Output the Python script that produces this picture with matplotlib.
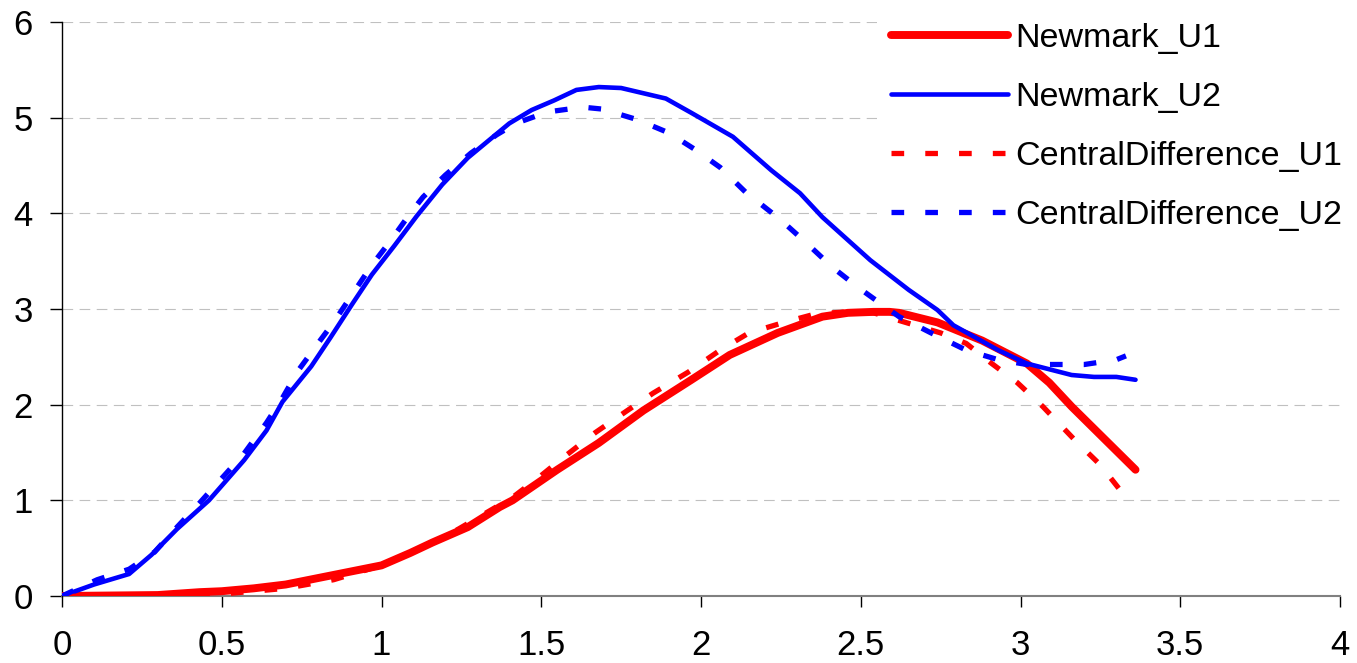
import matplotlib
matplotlib.use("Agg")
import matplotlib.pyplot as plt

plt.rcParams['font.family'] = ['Liberation Sans', 'DejaVu Sans']

# Newmark_U1 (red solid)
nm_u1_x = [0, 0.3, 0.43, 0.5, 0.6, 0.7, 0.85, 1.0, 1.09, 1.16, 1.27, 1.37, 1.41, 1.55, 1.68,
           1.82, 1.97, 2.09, 2.24, 2.38, 2.46, 2.54, 2.59, 2.62, 2.74, 2.88, 3.02, 3.09, 3.16, 3.36]
nm_u1_y = [0, 0.01, 0.04, 0.05, 0.08, 0.12, 0.22, 0.32, 0.45, 0.56, 0.72, 0.93, 1.0, 1.32, 1.6,
           1.94, 2.26, 2.52, 2.75, 2.92, 2.96, 2.97, 2.97, 2.96, 2.86, 2.67, 2.43, 2.23, 1.98, 1.32]

# Newmark_U2 (blue solid)
nm_u2_x = [0, 0.1, 0.21, 0.28, 0.36, 0.46, 0.57, 0.64, 0.69, 0.78, 0.84, 0.91, 0.97, 1.04, 1.11,
           1.19, 1.27, 1.40, 1.47, 1.54, 1.61, 1.68, 1.75, 1.89, 1.97, 2.1, 2.22, 2.31, 2.38, 2.53,
           2.65, 2.74, 2.79, 2.93, 3.02, 3.16, 3.23, 3.3, 3.36]
nm_u2_y = [0, 0.12, 0.23, 0.43, 0.7, 1.0, 1.42, 1.73, 2.03, 2.40, 2.70, 3.06, 3.36, 3.66, 3.97,
           4.30, 4.58, 4.94, 5.08, 5.18, 5.29, 5.32, 5.31, 5.2, 5.05, 4.8, 4.45, 4.21, 3.96, 3.51,
           3.2, 2.99, 2.83, 2.57, 2.43, 2.31, 2.29, 2.29, 2.26]

# CentralDifference_U1 (red dashed)
cd_u1_x = [0, 0.3, 0.5, 0.7, 0.85, 1.0, 1.2, 1.41, 1.5, 1.57, 1.67, 1.77, 1.85, 1.96, 2.06, 2.15,
           2.26, 2.36, 2.46, 2.54, 2.64, 2.75, 2.83, 2.91, 2.99, 3.07, 3.17, 3.25, 3.33]
cd_u1_y = [0, 0.0, 0.02, 0.08, 0.17, 0.32, 0.62, 1.03, 1.26, 1.45, 1.71, 1.94, 2.12, 2.34, 2.57, 2.75,
           2.86, 2.95, 2.97, 2.96, 2.86, 2.75, 2.64, 2.43, 2.23, 1.98, 1.63, 1.37, 1.03]

# CentralDifference_U2 (blue dashed)
cd_u2_x = [0, 0.11, 0.21, 0.29, 0.36, 0.43, 0.5, 0.57, 0.64, 0.69, 0.74, 0.81, 0.85, 0.91, 0.97,
           1.03, 1.09, 1.13, 1.2, 1.28, 1.36, 1.42, 1.52, 1.63, 1.69, 1.8, 1.9, 1.98, 2.06, 2.14,
           2.22, 2.26, 2.33, 2.41, 2.49, 2.54, 2.62, 2.72, 2.83, 2.93, 3.02, 3.1, 3.2, 3.3, 3.33]
cd_u2_y = [0, 0.17, 0.28, 0.46, 0.72, 0.97, 1.23, 1.49, 1.81, 2.07, 2.36, 2.68, 2.86, 3.16, 3.46,
           3.72, 4.0, 4.17, 4.4, 4.63, 4.82, 4.94, 5.06, 5.11, 5.09, 4.98, 4.84, 4.67, 4.48, 4.22,
           4.01, 3.9, 3.69, 3.44, 3.23, 3.11, 2.92, 2.75, 2.57, 2.47, 2.42, 2.42, 2.42, 2.47, 2.51]

x_ticks = [0, 0.5, 1, 1.5, 2, 2.5, 3, 3.5, 4]
x_tick_labels = ["0", "0.5", "1", "1.5", "2", "2.5", "3", "3.5", "4"]
y_ticks = [0, 1, 2, 3, 4, 5, 6]
y_tick_labels = ["0", "1", "2", "3", "4", "5", "6"]

W, H = 1357, 663
fig = plt.figure(figsize=(W / 100, H / 100), dpi=100)
ax = fig.add_axes([62 / W, (H - 596) / H, (1340 - 62) / W, (596 - 22) / H])

ax.plot(nm_u1_x, nm_u1_y, color='#ff0000', lw=5.7, solid_capstyle='round',
        solid_joinstyle='round', label='Newmark_U1', zorder=3)
ax.plot(nm_u2_x, nm_u2_y, color='#0000ff', lw=3.3, solid_capstyle='round',
        solid_joinstyle='round', label='Newmark_U2', zorder=3)
ax.plot(cd_u1_x, cd_u1_y, color='#ff0000', lw=3.8, dashes=(2.4, 4.0),
        dash_capstyle='butt', label='CentralDifference_U1', zorder=4)
ax.plot(cd_u2_x, cd_u2_y, color='#0000ff', lw=3.8, dashes=(2.4, 4.0),
        dash_capstyle='butt', label='CentralDifference_U2', zorder=4)

ax.set_xlim(0, 4)
ax.set_ylim(0, 6)
ax.set_xticks(x_ticks)
ax.set_xticklabels(x_tick_labels)
ax.set_yticks(y_ticks)
ax.set_yticklabels(y_tick_labels)

ax.yaxis.grid(True, color='#c0c0c0', linewidth=0.8, linestyle=(0, (9.6, 5.8)))
ax.set_axisbelow(True)

for s in ['top', 'right']:
    ax.spines[s].set_visible(False)
ax.spines['left'].set_color('black')
ax.spines['left'].set_linewidth(1.0)
ax.spines['bottom'].set_color('#808080')
ax.spines['bottom'].set_linewidth(1.5)
ax.spines['bottom'].set_zorder(2)

ax.tick_params(axis='x', direction='out', length=8, width=1, pad=16, labelsize=25, color='black')
ax.tick_params(axis='y', direction='out', length=9, width=1, pad=12, labelsize=25, color='black')

leg = ax.legend(loc='upper left', bbox_to_anchor=(877 / W, (H - 9) / H),
                bbox_transform=fig.transFigure, frameon=True, fontsize=24.5,
                handlelength=3.45, handletextpad=0.2, labelspacing=0.83,
                borderpad=0.4, borderaxespad=0)
leg.get_frame().set_facecolor('white')
leg.get_frame().set_edgecolor('white')
leg.get_frame().set_linewidth(0)
leg.get_frame().set_alpha(1.0)
leg.set_zorder(10)

fig.savefig('out.png', dpi=100, facecolor='white')
